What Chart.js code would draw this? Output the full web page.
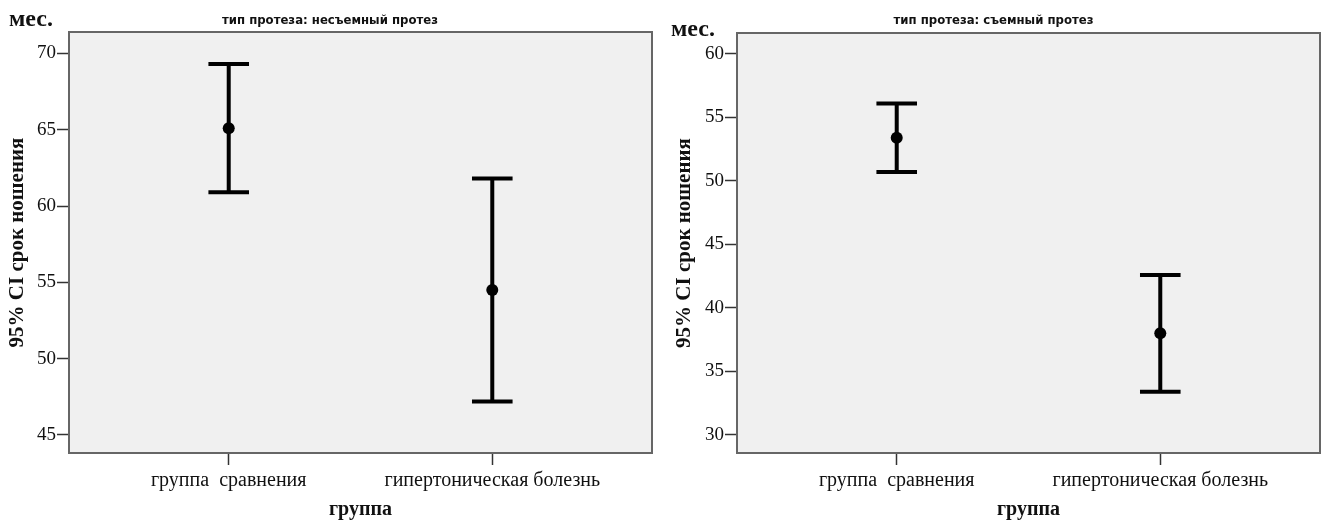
<!DOCTYPE html>
<html>
<head>
<meta charset="utf-8">
<script src="https://cdn.jsdelivr.net/npm/chart.js@4"></script>
<style>
  html, body { margin: 0; padding: 0; background: #ffffff; }
  #wrap { position: relative; width: 1327px; height: 522px; }
  .panel { position: absolute; top: 0; height: 522px; }
  #p1 { left: 0; width: 660px; }
  #p2 { left: 660px; width: 667px; }
</style>
</head>
<body>
<div id="wrap">
  <div class="panel" id="p1"><canvas id="c1" width="660" height="522"></canvas></div>
  <div class="panel" id="p2"><canvas id="c2" width="667" height="522"></canvas></div>
</div>
<script>
// Groups on the x axis
const groups = ['группа  сравнения', 'гипертоническая болезнь'];

// Fixed prosthesis: mean wearing time and 95% CI (months)
const fixedMean = [65.1, 54.5];
const fixedLow  = [60.9, 47.2];
const fixedHigh = [69.3, 61.8];
const fixedTicks = [45, 50, 55, 60, 65, 70];

// Removable prosthesis: mean wearing time and 95% CI (months)
const removableMean = [53.4, 38.0];
const removableLow  = [50.7, 33.4];
const removableHigh = [56.1, 42.6];
const removableTicks = [30, 35, 40, 45, 50, 55, 60];

const SERIF = '"Liberation Serif", "Times New Roman", serif';
const NARROW = '"Liberation Sans Narrow", "DejaVu Sans Condensed", "Liberation Sans", sans-serif';

// Light grey plot background and framing box
const frame = {
  id: 'frame',
  beforeDraw(chart) {
    const { ctx, chartArea: a } = chart;
    ctx.save();
    ctx.fillStyle = '#f0f0f0';
    ctx.fillRect(a.left, a.top, a.right - a.left, a.bottom - a.top);
    ctx.restore();
  },
  afterDraw(chart) {
    const { ctx, chartArea: a } = chart;
    ctx.save();
    ctx.strokeStyle = '#666666';
    ctx.lineWidth = 2;
    ctx.strokeRect(a.left, a.top, a.right - a.left, a.bottom - a.top);
    ctx.restore();
  }
};

// Vertical CI whiskers with caps, placed through the chart scales
const ciBars = {
  id: 'ciBars',
  beforeDatasetsDraw(chart, args, opts) {
    const { ctx, scales: { x, y } } = chart;
    ctx.save();
    ctx.strokeStyle = '#000';
    ctx.lineWidth = 4;
    ctx.lineCap = 'butt';
    opts.low.forEach((lo, i) => {
      const hi = opts.high[i];
      const px = x.getPixelForValue(i + 1);
      const yl = y.getPixelForValue(lo);
      const yh = y.getPixelForValue(hi);
      const cl = x.getPixelForValue(i + 1 - opts.capHalf);
      const cr = x.getPixelForValue(i + 1 + opts.capHalf);
      ctx.beginPath();
      ctx.moveTo(px, yl); ctx.lineTo(px, yh);
      ctx.moveTo(cl, yl); ctx.lineTo(cr, yl);
      ctx.moveTo(cl, yh); ctx.lineTo(cr, yh);
      ctx.stroke();
    });
    ctx.restore();
  }
};

// Unit label and panel heading
const header = {
  id: 'header',
  afterDraw(chart, args, opts) {
    const { ctx } = chart;
    ctx.save();
    ctx.fillStyle = '#111';
    ctx.textBaseline = 'alphabetic';
    ctx.textAlign = 'left';
    ctx.font = 'bold 24px ' + SERIF;
    ctx.fillText('мес.', opts.unitX, opts.unitY);
    ctx.textAlign = 'center';
    ctx.font = 'bold 13px ' + NARROW;
    ctx.fillText(opts.title, chart.width / 2, opts.titleY);
    ctx.restore();
  }
};

function makePanel(id, cfg) {
  return new Chart(document.getElementById(id), {
    type: 'scatter',
    data: {
      datasets: [{
        data: cfg.mean.map((m, i) => ({ x: i + 1, y: m })),
        pointRadius: 6,
        pointHoverRadius: 6,
        pointBackgroundColor: '#000',
        pointBorderColor: '#000',
        pointBorderWidth: 0
      }]
    },
    options: {
      responsive: false,
      animation: false,
      devicePixelRatio: 1,
      layout: { padding: { left: 0, top: cfg.top, right: cfg.right, bottom: 0 } },
      plugins: {
        legend: { display: false },
        tooltip: { enabled: false },
        ciBars: { low: cfg.low, high: cfg.high, capHalf: 0.077 },
        header: { title: cfg.title, unitX: cfg.unitX, unitY: cfg.unitY, titleY: cfg.titleY }
      },
      scales: {
        x: {
          type: 'linear',
          min: 0.394,
          max: 2.606,
          afterBuildTicks(s) { s.ticks = groups.map((g, i) => ({ value: i + 1 })); },
          afterFit(s) { s.height = 69; },
          ticks: {
            callback: (v, i) => groups[i],
            font: { family: SERIF, size: 20 },
            color: '#111',
            padding: 4,
            maxRotation: 0,
            autoSkip: false
          },
          grid: { drawOnChartArea: false, drawTicks: true, tickLength: 12, tickColor: '#333', tickWidth: 1.5 },
          border: { display: false },
          title: {
            display: true,
            text: 'группа',
            font: { family: SERIF, size: 20, weight: 'bold' },
            color: '#111',
            padding: { top: 0, bottom: 0 }
          }
        },
        y: {
          type: 'linear',
          min: cfg.yMin,
          max: cfg.yMax,
          afterBuildTicks(s) { s.ticks = cfg.ticks.map(v => ({ value: v })); },
          afterFit(s) { s.width = cfg.axisW; },
          ticks: {
            font: { family: SERIF, size: 19 },
            color: '#111',
            padding: 1
          },
          grid: { drawOnChartArea: false, drawTicks: true, tickLength: 12, tickColor: '#333', tickWidth: 1.5 },
          border: { display: false },
          title: {
            display: true,
            text: '95% CI срок ношения',
            font: { family: SERIF, size: 21, weight: 'bold' },
            color: '#111',
            padding: { top: cfg.yTitlePad, bottom: 0 }
          }
        }
      }
    },
    plugins: [frame, ciBars, header]
  });
}

makePanel('c1', {
  mean: fixedMean, low: fixedLow, high: fixedHigh, ticks: fixedTicks,
  yMin: 43.82, yMax: 71.4, axisW: 69, top: 32, right: 8, yTitlePad: 5,
  title: 'тип протеза: несъемный протез', unitX: 9, unitY: 26, titleY: 24
});

makePanel('c2', {
  mean: removableMean, low: removableLow, high: removableHigh, ticks: removableTicks,
  yMin: 28.58, yMax: 61.65, axisW: 77, top: 33, right: 7, yTitlePad: 12,
  title: 'тип протеза: съемный протез', unitX: 11, unitY: 36, titleY: 24
});
</script>
</body>
</html>
